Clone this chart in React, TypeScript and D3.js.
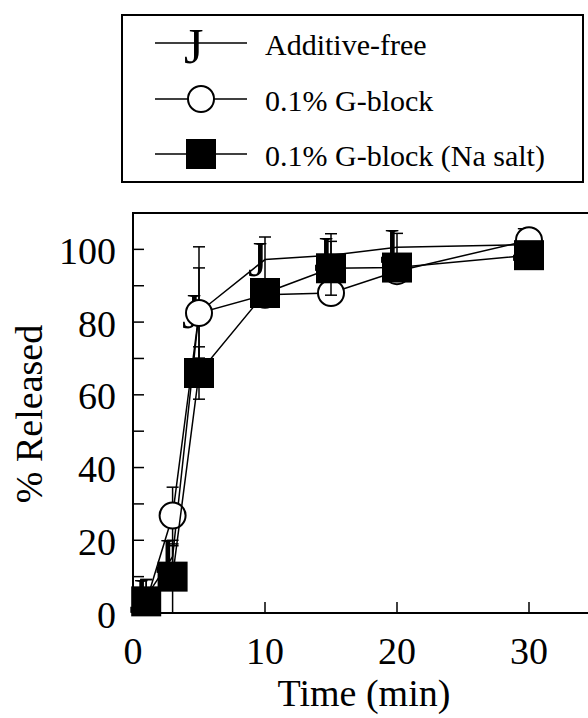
import React from 'react';
import * as d3 from 'd3';

// sampling times (min)
const times = [1, 3, 5, 10, 15, 20, 30];

// % released
const additiveFree = [4.5, 15.5, 82.7, 97.2, 98.4, 100.6, 101.3];
const additiveFreeErr = [4.7, 3, 18, 6.2, 5.9, 3.8, 1.5];
const gBlock = [3, 26.8, 82.5, 87.5, 88, 94, 102.5];
const gBlockErr = [2, 7.8, 12.4, 2, 2, 2, 1];
const gBlockNa = [3.2, 10, 66, 88, 94.8, 95, 98.4];
const gBlockNaErr = [6, 10, 7.2, 3, 7.4, 2, 1.5];

const xTicks = [0, 10, 20, 30];
const yTicks = [0, 20, 40, 60, 80, 100];
const yMinorTicks = [10, 30, 50, 70, 90];

const legendLabels = ['Additive-free', '0.1% G-block', '0.1% G-block (Na salt)'];

const W = 588;
const H = 718;
const FONT = '"Liberation Serif", "Times New Roman", serif';

function Marker({ type, cx, cy }: { type: string; cx: number; cy: number }) {
  if (type === 'J') {
    return (
      <text x={cx - 17} y={cy + 16} fontSize={50} fontFamily={FONT} fill="#000">
        J
      </text>
    );
  }
  if (type === 'circle') {
    return <circle cx={cx} cy={cy} r={13} fill="#fff" stroke="#000" strokeWidth={2} />;
  }
  return <rect x={cx - 15} y={cy - 15} width={30} height={30} fill="#000" />;
}

export default function App() {
  const x = d3.scaleLinear().domain([0, 35]).range([133, 595]);
  const y = d3.scaleLinear().domain([0, 110]).range([613, 213]);

  const series = [
    { values: additiveFree, errs: additiveFreeErr, marker: 'J' },
    { values: gBlock, errs: gBlockErr, marker: 'circle' },
    { values: gBlockNa, errs: gBlockNaErr, marker: 'square' },
  ];

  const line = d3
    .line<number>()
    .x((d, i) => x(times[i]))
    .y((d) => y(d));

  const legendRows = [43, 99, 154];

  return (
    <svg
      width={W}
      height={H}
      style={{ position: 'absolute', left: 0, top: 0, background: '#fff' }}
      fontFamily={FONT}
    >
      <rect width={W} height={H} fill="#fff" />

      {/* legend */}
      <rect x={122} y={15} width={461} height={167} fill="#fff" stroke="#000" strokeWidth={2} />
      {legendLabels.map((label, i) => (
        <g key={label}>
          <line x1={155} x2={247} y1={legendRows[i]} y2={legendRows[i]} stroke="#000" strokeWidth={1.5} />
          <Marker type={series[i].marker} cx={201} cy={legendRows[i] + (i === 0 ? 4 : 0)} />
          <text x={265} y={legendRows[i] + 12} fontSize={30}>
            {label}
          </text>
        </g>
      ))}

      {/* frame */}
      <rect x={x(0)} y={y(110)} width={x(35) - x(0)} height={y(0) - y(110)} fill="none" stroke="#000" strokeWidth={2} />

      {/* ticks inside */}
      {yTicks.concat(yMinorTicks).map((t) => (
        <line key={'yt' + t} x1={x(0)} x2={x(0) + 11} y1={y(t)} y2={y(t)} stroke="#000" strokeWidth={1.5} />
      ))}
      {xTicks.slice(1).map((t) => (
        <line key={'xt' + t} x1={x(t)} x2={x(t)} y1={y(0)} y2={y(0) - 11} stroke="#000" strokeWidth={1.5} />
      ))}

      {/* tick labels */}
      {yTicks.map((t) => (
        <text key={'yl' + t} x={116} y={y(t) + 14.5} fontSize={38} textAnchor="end">
          {t}
        </text>
      ))}
      {xTicks.map((t) => (
        <text key={'xl' + t} x={x(t)} y={664} fontSize={38} textAnchor="middle">
          {t}
        </text>
      ))}

      {/* axis titles */}
      <text x={364} y={706} fontSize={38} textAnchor="middle">
        Time (min)
      </text>
      <text transform="translate(42, 414) rotate(-90)" fontSize={38} textAnchor="middle">
        % Released
      </text>

      {/* series */}
      {series.map((s, si) => (
        <g key={'s' + si}>
          <path d={line(s.values) || ''} fill="none" stroke="#000" strokeWidth={1.5} />
          {s.values.map((v, i) => {
            const hi = y(v + s.errs[i]);
            const lo = y(Math.max(0, v - s.errs[i]));
            const cx = x(times[i]);
            return (
              <g key={'e' + i} stroke="#000" strokeWidth={1.5}>
                <line x1={cx} x2={cx} y1={lo} y2={hi} />
                <line x1={cx - 6} x2={cx + 6} y1={hi} y2={hi} />
                {v - s.errs[i] > 0 && <line x1={cx - 6} x2={cx + 6} y1={lo} y2={lo} />}
              </g>
            );
          })}
          {s.values.map((v, i) => (
            <Marker key={'m' + i} type={s.marker} cx={x(times[i])} cy={y(v)} />
          ))}
        </g>
      ))}
    </svg>
  );
}
